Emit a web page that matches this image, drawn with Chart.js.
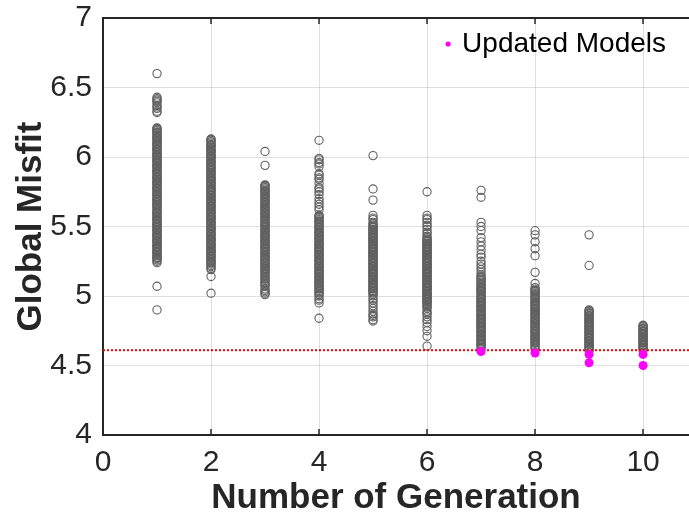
<!DOCTYPE html>
<html>
<head>
<meta charset="utf-8">
<script src="https://cdn.jsdelivr.net/npm/chart.js@4.4.0/dist/chart.umd.min.js"></script>
<style>
html, body { margin: 0; padding: 0; background: #fff; overflow: hidden; }
canvas { display: block; }
</style>
</head>
<body>
<canvas id="misfitChart" width="689" height="521"></canvas>
<script>
// misfit of every model, one list per generation
const gen1 = [6.60, 6.43, 6.42, 6.41, 6.40, 6.39, 6.37, 6.36, 6.35, 6.33, 6.32,
    6.21, 6.205, 6.20, 6.19, 6.18, 6.175, 6.17, 6.16, 6.15, 6.14, 6.135, 6.13, 6.12, 6.11, 6.10, 6.095, 6.09, 6.08, 6.07,
    6.06, 6.055, 6.05, 6.04, 6.03, 6.02, 6.015, 6.01, 6.00, 5.99, 5.98, 5.975, 5.97, 5.96, 5.95, 5.94, 5.935, 5.93, 5.92,
    5.91, 5.90, 5.895, 5.89, 5.88, 5.87, 5.86, 5.855, 5.85, 5.84, 5.83, 5.82, 5.815, 5.81, 5.80, 5.79, 5.78, 5.775, 5.77,
    5.76, 5.75, 5.74, 5.735, 5.73, 5.72, 5.71, 5.70, 5.695, 5.69, 5.68, 5.67, 5.66, 5.655, 5.65, 5.64, 5.63, 5.62, 5.61,
    5.60, 5.595, 5.59, 5.58, 5.57, 5.56, 5.555, 5.55, 5.54, 5.53, 5.52, 5.515, 5.51, 5.50, 5.49, 5.48, 5.475, 5.47, 5.46,
    5.45, 5.44, 5.435, 5.43, 5.42, 5.41, 5.40, 5.395, 5.39, 5.38, 5.37, 5.36, 5.355, 5.35, 5.34, 5.33, 5.32, 5.315, 5.31,
    5.30, 5.29, 5.28, 5.275, 5.27, 5.26, 5.25, 5.24, 5.07, 4.90];
const gen2 = [6.13, 6.125, 6.12, 6.11, 6.10, 6.09, 6.085, 6.08, 6.07, 6.06, 6.05, 6.045, 6.04, 6.03, 6.02, 6.01, 6.005,
    6.00, 5.99, 5.98, 5.97, 5.965, 5.96, 5.95, 5.94, 5.93, 5.925, 5.92, 5.91, 5.90, 5.89, 5.885, 5.88, 5.87, 5.86, 5.85,
    5.845, 5.84, 5.83, 5.82, 5.81, 5.805, 5.80, 5.79, 5.78, 5.77, 5.765, 5.76, 5.75, 5.74, 5.73, 5.725, 5.72, 5.71, 5.70,
    5.69, 5.685, 5.68, 5.67, 5.66, 5.65, 5.645, 5.64, 5.63, 5.62, 5.61, 5.605, 5.60, 5.59, 5.58, 5.57, 5.565, 5.56, 5.55,
    5.54, 5.53, 5.525, 5.52, 5.51, 5.50, 5.49, 5.485, 5.48, 5.47, 5.46, 5.45, 5.445, 5.44, 5.43, 5.42, 5.41, 5.405, 5.40,
    5.39, 5.38, 5.37, 5.365, 5.36, 5.35, 5.34, 5.33, 5.325, 5.32, 5.31, 5.30, 5.29, 5.285, 5.28, 5.27, 5.26, 5.25, 5.245,
    5.24, 5.23, 5.22, 5.21, 5.20, 5.19, 5.14, 5.02];
const gen3 = [6.04, 5.94, 5.80, 5.795, 5.79, 5.78, 5.77, 5.76, 5.755, 5.75, 5.74, 5.73, 5.72, 5.715, 5.71, 5.70, 5.69,
    5.68, 5.675, 5.67, 5.66, 5.65, 5.64, 5.635, 5.63, 5.62, 5.61, 5.60, 5.595, 5.59, 5.58, 5.57, 5.56, 5.555, 5.55, 5.54,
    5.53, 5.52, 5.515, 5.51, 5.50, 5.49, 5.48, 5.475, 5.47, 5.46, 5.45, 5.44, 5.435, 5.43, 5.42, 5.41, 5.40, 5.395, 5.39,
    5.38, 5.37, 5.36, 5.355, 5.35, 5.34, 5.33, 5.32, 5.315, 5.31, 5.30, 5.29, 5.28, 5.275, 5.27, 5.26, 5.25, 5.24, 5.235,
    5.23, 5.22, 5.21, 5.20, 5.195, 5.19, 5.18, 5.17, 5.16, 5.15, 5.14, 5.13, 5.12, 5.11, 5.10, 5.09, 5.08, 5.07, 5.05,
    5.04, 5.03, 5.02, 5.01];
const gen4 = [6.12, 5.99, 5.98, 5.96, 5.95, 5.93, 5.88, 5.87, 5.85, 5.84, 5.81, 5.78, 5.77, 5.75, 5.73, 5.70, 5.68, 5.66,
    5.64, 5.62, 5.58, 5.575, 5.57, 5.56, 5.55, 5.54, 5.535, 5.53, 5.52, 5.51, 5.50, 5.495, 5.49, 5.48, 5.47, 5.46, 5.455,
    5.45, 5.44, 5.43, 5.42, 5.415, 5.41, 5.40, 5.39, 5.38, 5.375, 5.37, 5.36, 5.35, 5.34, 5.335, 5.33, 5.32, 5.31, 5.30,
    5.295, 5.29, 5.28, 5.27, 5.26, 5.255, 5.25, 5.24, 5.23, 5.22, 5.215, 5.21, 5.20, 5.19, 5.18, 5.175, 5.17, 5.16, 5.15,
    5.14, 5.135, 5.13, 5.12, 5.11, 5.10, 5.095, 5.09, 5.08, 5.07, 5.06, 5.055, 5.05, 5.04, 5.03, 5.02, 5.01, 5.00, 4.98,
    4.97, 4.95, 4.84];
const gen5 = [6.01, 5.77, 5.69, 5.58, 5.56, 5.55, 5.53, 5.52, 5.51, 5.50, 5.495, 5.49, 5.48, 5.475, 5.47, 5.46, 5.455,
    5.45, 5.44, 5.435, 5.43, 5.42, 5.415, 5.41, 5.40, 5.395, 5.39, 5.38, 5.375, 5.37, 5.36, 5.355, 5.35, 5.34, 5.335, 5.33,
    5.32, 5.315, 5.31, 5.30, 5.295, 5.29, 5.28, 5.275, 5.27, 5.26, 5.255, 5.25, 5.24, 5.235, 5.23, 5.22, 5.215, 5.21, 5.20,
    5.195, 5.19, 5.18, 5.175, 5.17, 5.16, 5.155, 5.15, 5.14, 5.135, 5.13, 5.12, 5.115, 5.11, 5.10, 5.095, 5.09, 5.08,
    5.075, 5.07, 5.06, 5.055, 5.05, 5.04, 5.035, 5.03, 5.02, 5.01, 5.00, 4.98, 4.97, 4.95, 4.93, 4.91, 4.89, 4.87, 4.86,
    4.85, 4.83, 4.82];
const gen6 = [5.75, 5.58, 5.56, 5.55, 5.53, 5.51, 5.50, 5.48, 5.46, 5.45, 5.43, 5.42, 5.41, 5.40, 5.395, 5.39, 5.38,
    5.375, 5.37, 5.36, 5.355, 5.35, 5.34, 5.335, 5.33, 5.32, 5.315, 5.31, 5.30, 5.295, 5.29, 5.28, 5.275, 5.27, 5.26,
    5.255, 5.25, 5.24, 5.235, 5.23, 5.22, 5.215, 5.21, 5.20, 5.195, 5.19, 5.18, 5.175, 5.17, 5.16, 5.155, 5.15, 5.14,
    5.135, 5.13, 5.12, 5.115, 5.11, 5.10, 5.095, 5.09, 5.08, 5.075, 5.07, 5.06, 5.055, 5.05, 5.04, 5.035, 5.03, 5.02,
    5.015, 5.01, 5.00, 4.995, 4.99, 4.98, 4.975, 4.97, 4.96, 4.955, 4.95, 4.94, 4.93, 4.92, 4.91, 4.89, 4.88, 4.87, 4.85,
    4.83, 4.81, 4.78, 4.75, 4.71, 4.64];
const gen7 = [5.76, 5.71, 5.53, 5.50, 5.47, 5.42, 5.39, 5.36, 5.33, 5.30, 5.28, 5.25, 5.23, 5.21, 5.19, 5.17, 5.15, 5.14,
    5.13, 5.12, 5.11, 5.10, 5.09, 5.08, 5.07, 5.06, 5.055, 5.05, 5.04, 5.035, 5.03, 5.02, 5.01, 5.00, 4.99, 4.985, 4.98,
    4.97, 4.96, 4.955, 4.95, 4.94, 4.93, 4.925, 4.92, 4.91, 4.90, 4.895, 4.89, 4.88, 4.87, 4.865, 4.86, 4.85, 4.84, 4.835,
    4.83, 4.82, 4.81, 4.805, 4.80, 4.79, 4.78, 4.775, 4.77, 4.76, 4.75, 4.745, 4.74, 4.73, 4.72, 4.715, 4.71, 4.70, 4.69,
    4.685, 4.68, 4.67, 4.66, 4.655, 4.65, 4.64, 4.63, 4.62];
const gen8 = [5.47, 5.44, 5.39, 5.34, 5.29, 5.17, 5.09, 5.06, 5.05, 5.04, 5.035, 5.03, 5.02, 5.01, 5.00, 4.99, 4.985, 4.98,
    4.97, 4.96, 4.95, 4.945, 4.94, 4.93, 4.92, 4.91, 4.905, 4.90, 4.89, 4.88, 4.87, 4.865, 4.86, 4.85, 4.84, 4.83, 4.825,
    4.82, 4.81, 4.80, 4.79, 4.785, 4.78, 4.77, 4.76, 4.75, 4.745, 4.74, 4.73, 4.72, 4.71, 4.705, 4.70, 4.69, 4.68, 4.67,
    4.665, 4.66, 4.65, 4.64, 4.63, 4.62];
const gen9 = [5.44, 5.22, 4.90, 4.895, 4.89, 4.88, 4.875, 4.87, 4.86, 4.855, 4.85, 4.84, 4.835, 4.83, 4.82, 4.815, 4.81,
    4.80, 4.795, 4.79, 4.78, 4.775, 4.77, 4.76, 4.755, 4.75, 4.74, 4.735, 4.73, 4.72, 4.715, 4.71, 4.70, 4.695, 4.69,
    4.68, 4.675, 4.67, 4.66, 4.655, 4.65, 4.64, 4.635, 4.63, 4.62, 4.615, 4.61];
const gen10 = [4.79, 4.785, 4.78, 4.77, 4.765, 4.76, 4.75, 4.745, 4.74, 4.73, 4.725, 4.72, 4.71, 4.705, 4.70, 4.69, 4.685,
    4.68, 4.67, 4.665, 4.66, 4.65, 4.645, 4.64, 4.63, 4.625, 4.62, 4.61];

const generations = [gen1, gen2, gen3, gen4, gen5, gen6, gen7, gen8, gen9, gen10];

// models that beat the previous best
const updatedGen = [7, 8, 9, 9, 10, 10];
const updatedMisfit = [4.60, 4.59, 4.58, 4.52, 4.58, 4.50];

const threshold = 4.61;
const xTicks = [0, 2, 4, 6, 8, 10];
const yTicks = [4, 4.5, 5, 5.5, 6, 6.5, 7];

const X_MAX = 10.85;
const FONT = "'Liberation Sans', Arial, Helvetica, sans-serif";
const AXIS_COLOR = '#262626';
const GRID_COLOR = 'rgba(38,38,38,0.15)';
const UPDATED_COLOR = '#ff00ff';

const allModels = [];
generations.forEach((vals, i) => {
    vals.forEach(v => allModels.push({ x: i + 1, y: v }));
});

const updatedPoints = updatedGen.map((g, i) => ({ x: g, y: updatedMisfit[i] }));

// top edge of the box, inward x tick marks and the legend in the upper right corner
const boxFrame = {
    id: 'boxFrame',
    afterDraw(chart) {
        const { ctx, chartArea: a, scales: { x } } = chart;
        ctx.save();
        ctx.strokeStyle = AXIS_COLOR;
        ctx.lineWidth = 2;
        ctx.beginPath();
        ctx.moveTo(a.left - 1, a.top);
        ctx.lineTo(a.right, a.top);
        ctx.stroke();
        ctx.lineWidth = 1.5;
        ctx.beginPath();
        xTicks.forEach(t => {
            if (t === 0) return;
            const px = Math.round(x.getPixelForValue(t));
            ctx.moveTo(px, a.bottom);
            ctx.lineTo(px, a.bottom - 6);
            ctx.moveTo(px, a.top);
            ctx.lineTo(px, a.top + 6);
        });
        ctx.stroke();

        const label = chart.data.datasets[0].label;
        const ly = a.top + 26;
        ctx.font = '28px ' + FONT;
        ctx.fillStyle = '#000000';
        ctx.textAlign = 'right';
        ctx.textBaseline = 'middle';
        ctx.fillText(label, a.right - 23, ly);
        const textLeft = a.right - 23 - ctx.measureText(label).width;
        ctx.fillStyle = UPDATED_COLOR;
        ctx.beginPath();
        ctx.arc(textLeft - 14, ly, 2.6, 0, Math.PI * 2);
        ctx.fill();
        ctx.restore();
    }
};

const ctx = document.getElementById('misfitChart').getContext('2d');
const chart = new Chart(ctx, {
    type: 'scatter',
    data: {
        datasets: [
            {
                label: 'Updated Models',
                data: updatedPoints,
                pointStyle: 'circle',
                pointRadius: 4.5,
                borderWidth: 0,
                backgroundColor: UPDATED_COLOR,
                borderColor: UPDATED_COLOR
            },
            {
                label: 'threshold',
                type: 'line',
                data: [{ x: 0, y: threshold }, { x: X_MAX, y: threshold }],
                borderColor: '#ff0000',
                borderWidth: 2,
                borderDash: [2, 2],
                pointRadius: 0,
                fill: false
            },
            {
                label: 'models',
                data: allModels,
                pointStyle: 'circle',
                pointRadius: 4.1,
                borderWidth: 1.1,
                borderColor: '#606060',
                backgroundColor: 'rgba(0,0,0,0)'
            }
        ]
    },
    options: {
        responsive: false,
        animation: false,
        layout: { autoPadding: false, padding: { top: 18, right: 0, left: 0, bottom: 0 } },
        plugins: {
            tooltip: { enabled: false },
            legend: { display: false }
        },
        scales: {
            x: {
                type: 'linear',
                min: 0,
                max: X_MAX,
                afterBuildTicks: s => { s.ticks = xTicks.map(v => ({ value: v })); },
                afterFit: s => { s.height = 86; s.paddingLeft = 0; s.paddingRight = 0; },
                ticks: {
                    color: AXIS_COLOR,
                    padding: 10,
                    font: { family: FONT, size: 30 }
                },
                grid: { color: GRID_COLOR, lineWidth: 1, drawTicks: false },
                border: { color: AXIS_COLOR, width: 2 },
                title: {
                    display: true,
                    text: 'Number of Generation',
                    color: AXIS_COLOR,
                    padding: { top: 0, bottom: 2 },
                    font: { family: FONT, size: 35, weight: 'bold' }
                }
            },
            y: {
                type: 'linear',
                min: 4,
                max: 7,
                afterBuildTicks: s => { s.ticks = yTicks.map(v => ({ value: v })); },
                afterFit: s => { s.width = 103; s.paddingTop = 0; s.paddingBottom = 0; },
                ticks: {
                    color: AXIS_COLOR,
                    padding: 11,
                    callback: v => String(v),
                    font: { family: FONT, size: 30 }
                },
                grid: { color: GRID_COLOR, lineWidth: 1, drawTicks: false },
                border: { color: AXIS_COLOR, width: 2 },
                title: {
                    display: true,
                    text: 'Global Misfit',
                    color: AXIS_COLOR,
                    padding: { top: 10, bottom: 0 },
                    font: { family: FONT, size: 35, weight: 'bold' }
                }
            }
        }
    },
    plugins: [boxFrame]
});
</script>
</body>
</html>
